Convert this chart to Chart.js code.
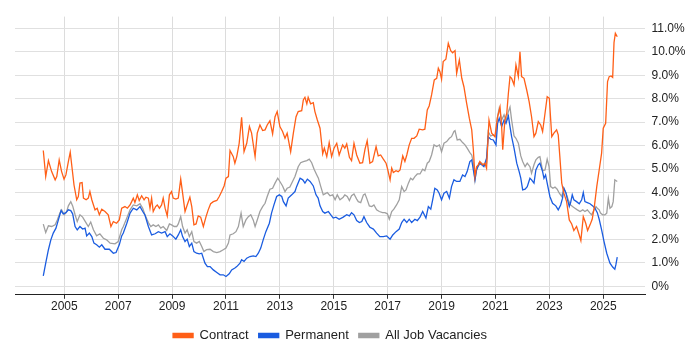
<!DOCTYPE html>
<html>
<head>
<meta charset="utf-8">
<script src="https://cdn.jsdelivr.net/npm/chart.js@4"></script>
<style>
  html, body { margin: 0; padding: 0; background: #fff; }
</style>
</head>
<body>
<canvas id="chart" width="700" height="350"></canvas>
<script>
// Tick labels
const yearTicks = [2005, 2007, 2009, 2011, 2013, 2015, 2017, 2019, 2021, 2023, 2025];
const pctTicks = [0, 1, 2, 3, 4, 5, 6, 7, 8, 9, 10, 11];

// Contract (%)
const contractYears = [2004.22,2004.31,2004.41,2004.53,2004.66,2004.72,2004.81,2004.90,2004.99,2005.06,2005.15,2005.22,2005.31,2005.36,2005.46,2005.52,2005.58,2005.66,2005.71,2005.81,2005.89,2005.95,2006.02,2006.14,2006.22,2006.30,2006.39,2006.51,2006.63,2006.73,2006.82,2006.94,2007.04,2007.13,2007.25,2007.34,2007.44,2007.50,2007.56,2007.62,2007.71,2007.78,2007.87,2007.96,2008.03,2008.12,2008.18,2008.24,2008.30,2008.39,2008.45,2008.53,2008.61,2008.67,2008.74,2008.82,2008.90,2008.98,2009.04,2009.14,2009.23,2009.32,2009.39,2009.48,2009.56,2009.66,2009.73,2009.81,2009.89,2009.97,2010.06,2010.16,2010.26,2010.34,2010.43,2010.53,2010.66,2010.75,2010.84,2010.93,2011.00,2011.09,2011.15,2011.27,2011.33,2011.40,2011.49,2011.58,2011.67,2011.77,2011.87,2011.95,2012.08,2012.16,2012.26,2012.36,2012.45,2012.53,2012.63,2012.73,2012.82,2012.90,2013.00,2013.10,2013.19,2013.27,2013.40,2013.50,2013.60,2013.68,2013.81,2013.87,2013.93,2014.00,2014.05,2014.14,2014.24,2014.30,2014.39,2014.49,2014.59,2014.65,2014.74,2014.83,2014.92,2015.01,2015.11,2015.20,2015.33,2015.41,2015.48,2015.58,2015.66,2015.75,2015.85,2015.97,2016.07,2016.16,2016.24,2016.34,2016.44,2016.57,2016.65,2016.74,2016.84,2016.94,2017.00,2017.09,2017.15,2017.21,2017.31,2017.39,2017.46,2017.56,2017.64,2017.71,2017.80,2017.89,2017.98,2018.08,2018.17,2018.30,2018.38,2018.47,2018.54,2018.63,2018.73,2018.82,2018.88,2018.94,2019.00,2019.06,2019.16,2019.25,2019.34,2019.41,2019.50,2019.56,2019.66,2019.75,2019.83,2019.93,2020.03,2020.12,2020.18,2020.24,2020.30,2020.36,2020.42,2020.52,2020.61,2020.67,2020.76,2020.86,2020.98,2021.07,2021.17,2021.23,2021.27,2021.35,2021.42,2021.48,2021.54,2021.60,2021.69,2021.76,2021.85,2021.91,2021.97,2022.06,2022.16,2022.25,2022.34,2022.43,2022.50,2022.59,2022.68,2022.75,2022.84,2022.92,2023.00,2023.09,2023.17,2023.27,2023.33,2023.39,2023.46,2023.54,2023.64,2023.74,2023.83,2023.91,2024.01,2024.11,2024.17,2024.26,2024.35,2024.42,2024.51,2024.59,2024.67,2024.76,2024.85,2024.94,2025.00,2025.09,2025.16,2025.22,2025.29,2025.35,2025.40,2025.45,2025.52];
const contractValues = [5.79,4.68,5.36,4.89,4.54,4.68,5.39,4.89,4.57,4.75,5.32,5.72,4.82,4.32,3.69,3.83,4.40,4.42,3.76,3.69,3.76,4.04,3.69,3.26,3.33,3.05,3.29,3.19,3.05,2.55,2.76,2.69,2.83,3.33,3.40,3.33,3.47,3.61,3.76,3.57,3.90,3.66,3.86,3.69,3.80,3.76,3.33,3.76,3.19,3.40,3.47,3.33,3.47,3.76,3.33,3.00,3.90,4.04,3.76,3.72,3.76,4.57,3.97,3.19,3.47,3.80,3.40,2.62,2.66,3.00,2.95,2.55,2.97,3.26,3.52,3.61,3.66,3.83,4.04,4.28,4.61,4.68,5.79,5.53,5.25,5.53,6.10,7.21,5.74,6.10,6.81,6.53,5.53,6.53,6.88,6.64,6.67,6.88,7.06,6.50,7.23,7.45,6.81,6.60,6.31,6.53,5.74,6.53,7.23,7.45,7.49,7.95,8.06,7.78,8.06,7.78,7.83,7.45,7.09,6.74,5.65,5.89,5.53,6.13,5.53,5.89,6.10,5.60,6.03,5.89,6.07,5.50,5.36,6.10,5.60,5.25,5.27,5.85,6.21,5.25,5.32,5.96,5.56,5.60,5.42,5.25,4.99,4.54,5.04,4.85,4.93,4.89,4.96,5.56,5.32,5.60,6.03,6.31,6.31,6.41,6.70,6.67,6.70,7.52,7.69,8.16,8.80,8.87,9.30,9.15,8.83,9.58,9.68,10.36,10.05,9.96,10.05,9.08,9.65,8.87,8.51,7.81,7.17,6.67,5.82,4.68,5.10,5.18,5.32,5.18,5.25,5.04,7.09,6.53,6.38,7.17,7.64,6.81,5.82,7.09,7.38,8.23,8.94,8.87,8.59,9.44,8.94,10.00,8.94,8.87,8.37,7.87,7.23,6.38,6.53,7.02,6.88,6.60,7.38,8.09,8.02,6.38,6.53,6.67,6.46,5.53,4.40,3.97,3.61,2.83,2.66,2.38,2.55,2.19,1.95,2.97,2.69,2.38,2.62,2.86,3.40,4.25,4.96,5.68,6.74,6.95,8.73,8.94,8.97,8.91,10.39,10.79,10.64];

// Permanent (%)
const permanentYears = [2004.22,2004.31,2004.41,2004.50,2004.59,2004.69,2004.78,2004.88,2004.96,2005.06,2005.15,2005.24,2005.31,2005.40,2005.48,2005.58,2005.68,2005.77,2005.83,2005.93,2006.02,2006.10,2006.20,2006.30,2006.39,2006.51,2006.67,2006.82,2006.92,2007.04,2007.13,2007.19,2007.32,2007.44,2007.56,2007.69,2007.81,2007.91,2007.99,2008.12,2008.24,2008.37,2008.49,2008.61,2008.74,2008.82,2008.92,2009.02,2009.14,2009.23,2009.32,2009.39,2009.48,2009.56,2009.64,2009.73,2009.81,2009.91,2010.01,2010.10,2010.22,2010.31,2010.41,2010.53,2010.66,2010.78,2010.90,2011.00,2011.12,2011.21,2011.33,2011.40,2011.52,2011.58,2011.67,2011.77,2011.89,2012.01,2012.11,2012.20,2012.29,2012.38,2012.48,2012.61,2012.69,2012.78,2012.88,2012.98,2013.07,2013.13,2013.23,2013.31,2013.44,2013.56,2013.62,2013.75,2013.85,2013.93,2014.02,2014.12,2014.24,2014.34,2014.42,2014.49,2014.59,2014.67,2014.80,2014.89,2014.98,2015.08,2015.20,2015.35,2015.48,2015.58,2015.66,2015.75,2015.85,2015.95,2016.04,2016.12,2016.22,2016.34,2016.47,2016.59,2016.71,2016.84,2016.96,2017.09,2017.19,2017.31,2017.43,2017.52,2017.61,2017.71,2017.80,2017.89,2018.01,2018.10,2018.20,2018.30,2018.42,2018.51,2018.60,2018.67,2018.75,2018.84,2018.91,2019.00,2019.09,2019.19,2019.29,2019.37,2019.46,2019.56,2019.68,2019.78,2019.87,2019.95,2020.05,2020.12,2020.18,2020.24,2020.30,2020.40,2020.49,2020.57,2020.67,2020.73,2020.82,2020.92,2021.02,2021.08,2021.14,2021.23,2021.32,2021.39,2021.48,2021.54,2021.60,2021.69,2021.79,2021.88,2021.94,2022.01,2022.10,2022.18,2022.28,2022.34,2022.43,2022.50,2022.59,2022.65,2022.75,2022.80,2022.86,2022.92,2023.02,2023.12,2023.24,2023.33,2023.42,2023.49,2023.54,2023.62,2023.66,2023.74,2023.79,2023.85,2023.91,2024.01,2024.11,2024.20,2024.26,2024.32,2024.41,2024.51,2024.61,2024.69,2024.78,2024.85,2024.94,2025.03,2025.13,2025.25,2025.35,2025.43,2025.47,2025.52];
const permanentValues = [0.45,0.99,1.56,1.98,2.27,2.48,2.83,3.23,3.09,3.14,3.26,3.23,3.09,2.55,2.41,2.55,2.44,2.48,2.15,2.27,2.12,1.84,1.77,1.67,1.77,1.58,1.58,1.41,1.44,1.77,2.15,2.27,2.69,3.12,3.33,3.26,3.40,3.19,3.05,2.55,2.19,2.24,2.33,2.27,2.33,2.12,2.24,2.15,2.01,2.19,2.41,2.12,1.91,2.01,1.70,1.84,1.48,1.41,1.38,1.41,0.99,0.84,0.84,0.70,0.59,0.49,0.49,0.42,0.53,0.70,0.78,0.84,0.99,1.13,1.06,1.20,1.27,1.30,1.27,1.41,1.63,1.98,2.33,2.69,3.12,3.47,3.83,3.90,3.83,3.61,3.43,3.76,3.90,4.04,4.25,4.61,4.54,4.40,4.57,4.47,4.28,3.90,3.76,3.43,3.19,3.12,3.19,3.05,2.91,2.95,2.86,2.95,3.05,3.00,3.14,3.05,2.80,2.72,2.76,2.97,2.72,2.52,2.44,2.27,2.12,2.12,2.15,2.01,2.19,2.33,2.44,2.72,2.86,2.72,2.86,2.72,2.86,2.80,2.95,3.19,2.91,3.40,3.29,3.69,4.18,4.11,3.97,3.69,3.97,4.04,3.76,4.25,4.54,4.47,4.47,4.75,4.68,4.89,5.32,5.39,4.96,4.54,4.96,5.25,5.18,5.10,5.46,6.38,6.27,6.24,6.03,6.95,7.17,6.81,7.09,6.95,7.26,6.81,6.38,5.89,5.25,4.89,4.61,4.11,4.14,4.25,4.61,4.54,4.40,4.96,5.18,5.25,4.89,4.61,4.75,4.40,3.83,3.54,3.43,3.26,3.47,3.76,4.18,3.97,3.76,3.40,3.57,3.90,3.69,3.61,3.52,3.69,4.00,3.61,3.57,3.52,3.43,3.33,3.14,2.86,2.41,1.91,1.41,0.99,0.82,0.73,0.92,1.24];

// All Job Vacancies (%)
const allYears = [2004.22,2004.31,2004.41,2004.53,2004.66,2004.74,2004.84,2004.90,2005.00,2005.09,2005.15,2005.24,2005.31,2005.40,2005.48,2005.58,2005.68,2005.78,2005.89,2005.98,2006.08,2006.20,2006.32,2006.45,2006.57,2006.70,2006.88,2007.00,2007.13,2007.19,2007.32,2007.44,2007.56,2007.69,2007.81,2007.91,2007.99,2008.12,2008.21,2008.30,2008.40,2008.49,2008.58,2008.67,2008.80,2008.90,2008.98,2009.08,2009.17,2009.23,2009.32,2009.39,2009.48,2009.56,2009.64,2009.73,2009.81,2009.91,2010.01,2010.10,2010.18,2010.28,2010.41,2010.53,2010.66,2010.78,2010.90,2011.00,2011.09,2011.15,2011.27,2011.37,2011.46,2011.56,2011.64,2011.74,2011.83,2011.92,2012.01,2012.08,2012.16,2012.26,2012.36,2012.45,2012.53,2012.63,2012.73,2012.82,2012.92,2013.00,2013.10,2013.19,2013.27,2013.37,2013.47,2013.56,2013.68,2013.77,2013.87,2014.00,2014.09,2014.18,2014.27,2014.37,2014.43,2014.51,2014.61,2014.67,2014.76,2014.86,2014.96,2015.05,2015.13,2015.23,2015.35,2015.41,2015.50,2015.58,2015.66,2015.75,2015.85,2015.91,2016.00,2016.10,2016.16,2016.22,2016.32,2016.41,2016.49,2016.59,2016.69,2016.81,2016.90,2016.99,2017.06,2017.15,2017.23,2017.33,2017.43,2017.52,2017.61,2017.68,2017.77,2017.85,2017.93,2018.01,2018.10,2018.20,2018.30,2018.38,2018.47,2018.54,2018.63,2018.72,2018.82,2018.92,2019.00,2019.09,2019.19,2019.29,2019.37,2019.46,2019.50,2019.58,2019.68,2019.78,2019.87,2019.95,2020.05,2020.12,2020.18,2020.24,2020.30,2020.40,2020.49,2020.57,2020.67,2020.73,2020.82,2020.92,2021.01,2021.08,2021.14,2021.23,2021.32,2021.39,2021.48,2021.54,2021.60,2021.69,2021.76,2021.85,2021.94,2022.01,2022.10,2022.18,2022.28,2022.34,2022.43,2022.50,2022.59,2022.65,2022.75,2022.84,2022.92,2022.99,2023.05,2023.13,2023.21,2023.29,2023.37,2023.46,2023.54,2023.62,2023.70,2023.79,2023.86,2023.95,2024.04,2024.14,2024.24,2024.32,2024.41,2024.51,2024.57,2024.66,2024.73,2024.78,2024.85,2024.90,2024.98,2025.06,2025.13,2025.19,2025.25,2025.32,2025.37,2025.43,2025.52];
const allValues = [2.65,2.29,2.58,2.55,2.62,2.83,3.14,3.26,3.05,3.19,3.43,3.61,3.43,3.05,2.76,3.05,2.95,2.76,2.55,2.74,2.41,2.15,2.24,2.05,1.98,1.84,1.81,1.91,2.41,2.55,2.91,3.26,3.47,3.43,3.52,3.33,3.05,2.72,2.55,2.62,2.55,2.62,2.48,2.55,2.38,2.66,2.62,2.55,2.55,2.66,2.97,2.55,2.27,2.41,2.12,2.33,1.91,1.84,1.91,1.70,1.48,1.56,1.58,1.48,1.44,1.48,1.56,1.63,1.84,2.19,2.24,2.33,2.55,3.12,2.55,2.83,2.97,3.05,2.83,2.55,2.83,3.19,3.40,3.54,3.83,4.14,4.18,4.40,4.61,4.47,4.28,4.04,4.18,4.23,4.47,4.68,5.10,5.27,5.32,5.36,5.42,5.27,4.99,4.75,4.61,4.28,3.90,3.94,4.00,3.86,3.90,3.69,3.90,3.69,3.80,3.90,3.83,3.66,3.86,3.94,3.72,3.61,3.57,3.90,3.94,3.76,3.43,3.40,3.47,3.26,3.19,3.14,3.14,3.09,2.86,3.19,3.29,3.47,3.69,4.25,4.04,4.11,4.40,4.61,4.54,4.68,4.79,4.79,4.99,4.93,5.25,5.32,5.60,6.03,5.96,6.03,5.74,6.10,6.17,6.31,6.38,6.60,6.64,6.24,6.27,6.13,6.03,5.89,5.70,5.60,5.25,4.54,5.04,5.18,5.25,5.13,5.25,6.60,6.41,6.46,6.38,7.26,7.59,7.09,7.31,7.06,7.45,7.64,7.09,6.41,6.31,6.10,5.56,5.32,5.10,5.25,5.10,4.82,5.18,5.39,5.50,5.53,4.93,4.96,5.42,5.10,4.25,4.18,4.23,4.14,3.97,3.83,4.18,3.97,3.69,3.47,3.40,3.33,3.26,3.19,3.26,3.19,3.26,3.12,3.05,3.26,3.40,3.33,3.26,3.12,3.05,3.05,3.12,3.76,3.33,3.40,3.61,4.54,4.47];

const toPoints = (xs, ys) => xs.map((x, i) => ({ x, y: ys[i] }));

Chart.defaults.font.family = '"Liberation Sans", Arial, sans-serif';

new Chart(document.getElementById('chart'), {
  type: 'line',
  data: {
    datasets: [
      {
        label: 'Contract',
        data: toPoints(contractYears, contractValues),
        borderColor: '#ff5f17',
        backgroundColor: '#ff5f17',
        borderWidth: 1.3,
        pointRadius: 0,
        tension: 0
      },
      {
        label: 'Permanent',
        data: toPoints(permanentYears, permanentValues),
        borderColor: '#1a5ce0',
        backgroundColor: '#1a5ce0',
        borderWidth: 1.3,
        pointRadius: 0,
        tension: 0
      },
      {
        label: 'All Job Vacancies',
        data: toPoints(allYears, allValues),
        borderColor: '#a0a0a0',
        backgroundColor: '#a0a0a0',
        borderWidth: 1.3,
        pointRadius: 0,
        tension: 0
      }
    ]
  },
  options: {
    responsive: false,
    animation: false,
    layout: { padding: { left: 15, right: 0, top: 16.6, bottom: -2 } },
    plugins: {
      legend: {
        position: 'bottom',
        fullSize: false,
        labels: { boxWidth: 20, boxHeight: 4, padding: 10, color: '#222', font: { size: 13 } }
      },
      tooltip: { enabled: false }
    },
    scales: {
      x: {
        type: 'linear',
        min: 2003.17,
        max: 2026.55,
        afterBuildTicks: s => { s.ticks = yearTicks.map(v => ({ value: v })); },
        afterFit: s => { s.height = 24.2; },
        grid: { color: '#dcdcdc', tickLength: 4, tickColor: '#333' },
        border: { color: '#222' },
        ticks: { padding: 1, color: '#222', maxRotation: 0, font: { size: 12 }, callback: v => String(v) }
      },
      y: {
        position: 'right',
        min: -0.362,
        max: 11.5,
        afterBuildTicks: s => { s.ticks = pctTicks.map(v => ({ value: v })); },
        afterFit: s => { s.width = 55; },
        grid: { color: '#e0e0e0', drawTicks: false },
        border: { display: false },
        ticks: { padding: 6.5, color: '#222', font: { size: 12 }, callback: v => v === 0 ? '0%' : v.toFixed(1) + '%' }
      }
    }
  }
});
</script>
</body>
</html>
